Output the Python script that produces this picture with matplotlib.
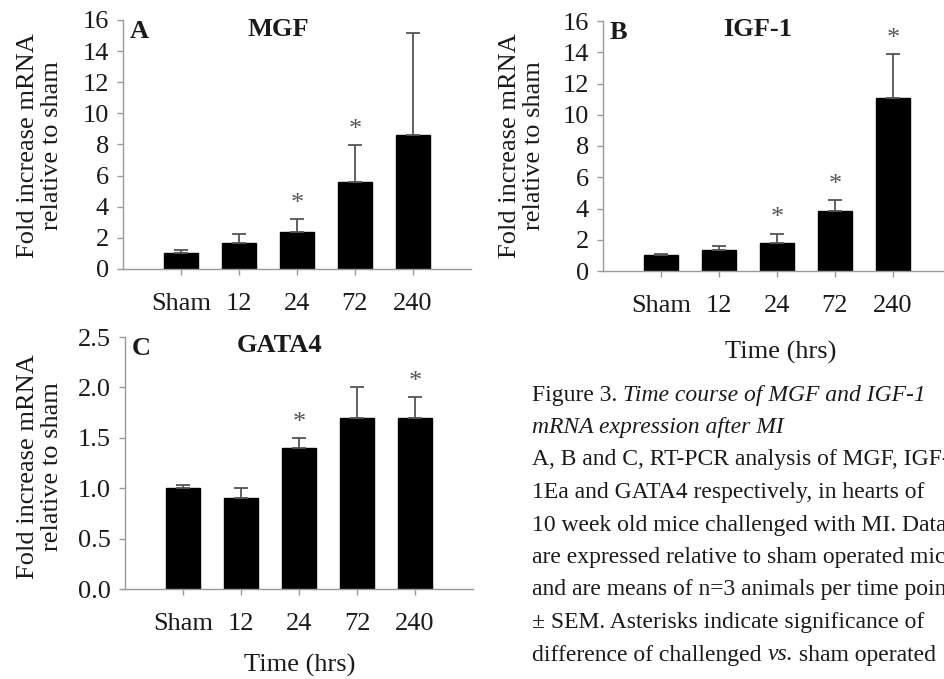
import numpy as np
import matplotlib.pyplot as plt

plt.rcParams['font.family'] = ['Liberation Serif', 'DejaVu Serif']

W, H = 945, 679

categories = ['Sham', '12', '24', '72', '240']

# fold increase (mean) and upper SEM for each gene
mgf_mean = [1.0, 1.7, 2.37, 5.62, 8.6]
mgf_sem = [0.23, 0.56, 0.85, 2.34, 6.54]
mgf_sig = [False, False, True, True, False]

igf_mean = [1.0, 1.32, 1.81, 3.82, 11.1]
igf_sem = [0.1, 0.28, 0.58, 0.7, 2.8]
igf_sig = [False, False, True, True, True]

gata_mean = [1.0, 0.9, 1.4, 1.7, 1.7]
gata_sem = [0.03, 0.1, 0.1, 0.3, 0.2]
gata_sig = [False, False, True, False, True]

AXIS_GREY = '#9a9a9a'
TEXT = '#1a1a1a'
FS = 19


def add_panel(fig, left, y_zero, y_top, ymax, yticks, fmt,
              mean, sem, sig, letter, gene):
    # place axes in pixel units: xlim is 0..6 categories, 58 px each
    ax = fig.add_axes([left / W, 1 - y_zero / H, 348 / W, (y_zero - y_top) / H])
    x = np.arange(1, len(categories) + 1)
    ax.bar(x, mean, width=0.6, color='black', edgecolor='black',
           yerr=[np.zeros(len(sem)), sem],
           error_kw=dict(ecolor='#555555', elinewidth=1.3,
                         capsize=5, capthick=1.3))
    for xi, m, s, flag in zip(x, mean, sem, sig):
        if flag:
            ax.annotate('*', xy=(xi, m + s), xytext=(0, 3),
                        textcoords='offset points', ha='center',
                        va='bottom', fontsize=FS, color='#555555')

    ax.set_xlim(0, 6)
    ax.set_ylim(0, ymax)
    ax.set_xticks(x)
    ax.set_xticklabels(categories)
    ax.set_yticks(yticks)
    ax.set_yticklabels([fmt % v for v in yticks])
    for side in ('top', 'right'):
        ax.spines[side].set_visible(False)
    for side in ('left', 'bottom'):
        ax.spines[side].set_color(AXIS_GREY)
        ax.spines[side].set_linewidth(1.0)
    ax.tick_params(direction='out', length=4, width=1.0, color=AXIS_GREY,
                   labelsize=FS, labelcolor=TEXT)
    ax.tick_params(axis='x', pad=13)
    ax.tick_params(axis='y', pad=6)
    ax.patch.set_visible(False)

    ax.text(0.02, 1.0, letter, transform=ax.transAxes, ha='left', va='top',
            fontsize=FS, fontweight='bold', color=TEXT)
    ax.text(0.445, 1.01, gene, transform=ax.transAxes, ha='center', va='top',
            fontsize=FS, fontweight='bold', color=TEXT)
    return ax


fig = plt.figure(figsize=(W / 100, H / 100), dpi=100)

add_panel(fig, 123, 269, 20, 16, np.arange(0, 17, 2), '%d',
          mgf_mean, mgf_sem, mgf_sig, 'A', 'MGF')
add_panel(fig, 603, 271, 21, 16, np.arange(0, 17, 2), '%d',
          igf_mean, igf_sem, igf_sig, 'B', 'IGF-1')
add_panel(fig, 125, 589, 337, 2.5, np.arange(0, 2.51, 0.5), '%.1f',
          gata_mean, gata_sem, gata_sig, 'C', 'GATA4')

ylab = 'Fold increase mRNA\nrelative to sham'
for xp, yp in [(40, 146), (522, 146), (40, 467)]:
    fig.text(xp / W, 1 - yp / H, ylab, rotation=90, ha='center', va='center',
             fontsize=FS, color=TEXT, linespacing=1.15)

for xp, yp in [(781, 352), (300, 665)]:
    fig.text(xp / W, 1 - yp / H, 'Time (hrs)', ha='center', va='center',
             fontsize=FS, color=TEXT)

# caption block on the lower right (runs off the right edge of the page)
cap = fig.add_axes([0, 0, 1, 1])
cap.axis('off')
cs = 17
x0 = 532 / W
step = 32.5


def line_y(i):
    return 1 - (395 + step * i) / H


t = cap.text(x0, line_y(0), 'Figure 3. ', ha='left', va='center',
             fontsize=cs, color=TEXT)
cap.annotate('Time course of MGF and IGF-1', xy=(1, 0), xycoords=t,
             ha='left', va='bottom', fontsize=cs, style='italic', color=TEXT)
cap.text(x0, line_y(1), 'mRNA expression after MI', ha='left', va='center',
         fontsize=cs, style='italic', color=TEXT)

body = [
    'A, B and C, RT-PCR analysis of MGF, IGF-',
    '1Ea and GATA4 respectively, in hearts of',
    '10 week old mice challenged with MI. Data',
    'are expressed relative to sham operated mice',
    'and are means of n=3 animals per time point',
    '\u00b1 SEM. Asterisks indicate significance of',
]
for i, line in enumerate(body):
    cap.text(x0, line_y(2 + i), line, ha='left', va='center',
             fontsize=cs, color=TEXT)

t = cap.text(x0, line_y(8), 'difference of challenged ', ha='left',
             va='center', fontsize=cs, color=TEXT)
t = cap.annotate('vs.', xy=(1, 0), xycoords=t, ha='left', va='bottom',
                 fontsize=cs, style='italic', color=TEXT)
cap.annotate(' sham operated', xy=(1, 0), xycoords=t, ha='left',
             va='bottom', fontsize=cs, color=TEXT)

fig.savefig('out.png', dpi=100)
